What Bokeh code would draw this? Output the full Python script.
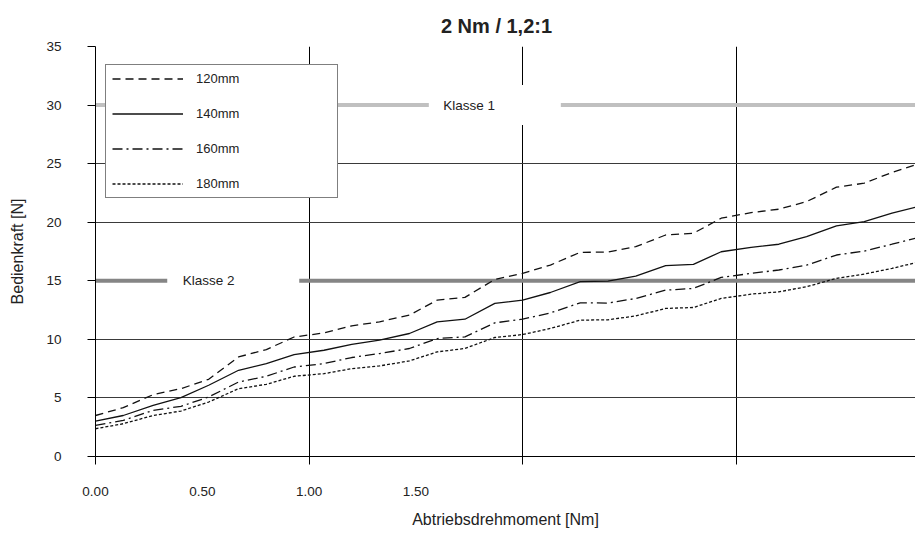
from bokeh.plotting import figure
from bokeh.models import FixedTicker, Legend, LegendItem, Range1d, PrintfTickFormatter
from bokeh.core.properties import value
from bokeh.embed import file_html
from bokeh.resources import INLINE

# ---- data ----
torque = [0.00, 0.13, 0.27, 0.40, 0.53, 0.67, 0.80, 0.93, 1.07, 1.20,
          1.33, 1.47, 1.60, 1.73, 1.87, 2.00, 2.13, 2.27, 2.40, 2.53,
          2.67, 2.80, 2.93, 3.07, 3.20, 3.33, 3.47, 3.60, 3.73, 3.84]

f120 = [3.50, 4.17, 5.28, 5.79, 6.59, 8.50, 9.13, 10.20, 10.55, 11.15,
        11.50, 12.07, 13.35, 13.58, 15.12, 15.63, 16.34, 17.43, 17.45, 17.91,
        18.91, 19.06, 20.34, 20.82, 21.11, 21.76, 22.99, 23.33, 24.25, 24.90]
f140 = [3.02, 3.50, 4.36, 5.02, 6.08, 7.36, 7.93, 8.70, 9.07, 9.57,
        9.93, 10.50, 11.50, 11.72, 13.07, 13.35, 14.00, 14.92, 14.97, 15.40,
        16.29, 16.40, 17.48, 17.86, 18.12, 18.77, 19.68, 20.05, 20.77, 21.28]
f160 = [2.65, 3.08, 3.94, 4.28, 5.08, 6.36, 6.85, 7.64, 7.93, 8.45,
        8.79, 9.22, 10.07, 10.21, 11.41, 11.72, 12.26, 13.12, 13.10, 13.49,
        14.20, 14.35, 15.29, 15.63, 15.92, 16.34, 17.20, 17.54, 18.12, 18.63]
f180 = [2.37, 2.80, 3.50, 3.88, 4.65, 5.79, 6.16, 6.85, 7.07, 7.50,
        7.73, 8.16, 8.93, 9.22, 10.16, 10.41, 10.93, 11.64, 11.67, 12.00,
        12.64, 12.72, 13.49, 13.86, 14.06, 14.49, 15.21, 15.57, 16.06, 16.54]

series_labels = ["120mm", "140mm", "160mm", "180mm"]

klasse_names = ["Klasse 1", "Klasse 2"]
klasse_levels = [30, 15]

x_tick_labels_at = [0.0, 0.5, 1.0, 1.5]
x_grid_at = [1, 2, 3]
y_ticks = [0, 5, 10, 15, 20, 25, 30, 35]

# ---- styling / placement ----
FONT = "Liberation Sans"
TXT = "#222222"
klasse_colors = ["#c0c0c0", "#858585"]
klasse_text_x = [1.75, 0.53]
klasse_box_x = [1.87, 0.645]
dashes = ["8 5", "solid", "10 4 2 4", "3 2"]

p = figure(width=915, height=534, output_backend="svg", toolbar_location=None,
           x_range=Range1d(0, 3.84), y_range=Range1d(0, 35),
           min_border_left=95, min_border_right=0, min_border_top=0,
           min_border_bottom=78, title="2 Nm / 1,2:1")
p.outline_line_color = None
p.background_fill_color = "white"

p.title.text_font = FONT
p.title.text_font_size = "20px"
p.title.text_font_style = "bold"
p.title.text_color = TXT
p.title.align = "center"
p.title.standoff = 19
p.title.padding = dict(left=0, right=18, top=3, bottom=0)

# x axis
p.xaxis.ticker = FixedTicker(ticks=x_tick_labels_at, minor_ticks=[0] + x_grid_at)
p.xaxis.formatter = PrintfTickFormatter(format="%.2f")
p.xaxis.major_tick_out = 0
p.xaxis.major_tick_in = 0
p.xaxis.minor_tick_out = 8
p.xaxis.minor_tick_in = 0
p.xaxis.minor_tick_line_color = "black"
p.xaxis.axis_line_color = "black"
p.xaxis.major_label_standoff = 22
p.xaxis.major_label_text_font = FONT
p.xaxis.major_label_text_font_size = "13.5px"
p.xaxis.major_label_text_color = TXT
p.xaxis.axis_label = "Abtriebsdrehmoment [Nm]"
p.xaxis.axis_label_text_font = FONT
p.xaxis.axis_label_text_font_size = "16px"
p.xaxis.axis_label_text_font_style = "normal"
p.xaxis.axis_label_text_color = TXT
p.xaxis.axis_label_standoff = 12

# y axis
p.yaxis.ticker = FixedTicker(ticks=y_ticks)
p.yaxis.major_tick_out = 8
p.yaxis.major_tick_in = 0
p.yaxis.minor_tick_out = 0
p.yaxis.minor_tick_in = 0
p.yaxis.major_tick_line_color = "black"
p.yaxis.axis_line_color = "black"
p.yaxis.major_label_standoff = 26
p.yaxis.major_label_text_font = FONT
p.yaxis.major_label_text_font_size = "13.5px"
p.yaxis.major_label_text_color = TXT
p.yaxis.axis_label = "Bedienkraft [N]"
p.yaxis.axis_label_text_font = FONT
p.yaxis.axis_label_text_font_size = "16px"
p.yaxis.axis_label_text_font_style = "normal"
p.yaxis.axis_label_text_color = TXT
p.yaxis.axis_label_standoff = 17

# grids
p.xgrid.ticker = FixedTicker(ticks=x_grid_at)
p.xgrid.grid_line_color = "black"
p.xgrid.grid_line_width = 1
p.ygrid.ticker = FixedTicker(ticks=y_ticks[1:])
p.ygrid.grid_line_color = "#3a3a3a"
p.ygrid.grid_line_width = 1

# Klasse reference lines with white label boxes
for name, lvl, col, tx, bx in zip(klasse_names, klasse_levels, klasse_colors,
                                  klasse_text_x, klasse_box_x):
    p.line([torque[0], torque[-1]], [lvl, lvl], line_color=col, line_width=4)
    p.rect(x=[bx], y=[lvl], width=132, height=40, width_units="screen",
           height_units="screen", fill_color="white", line_color=None)
    p.text(x=[tx], y=[lvl], text=[name], text_font=value(FONT),
           text_font_size="13.5px", text_align="center", text_baseline="middle",
           text_color=TXT)

# curves
renderers = []
for ys, dash in zip([f120, f140, f160, f180], dashes):
    r = p.line(torque, ys, line_color="#111111", line_width=1.3, line_dash=dash)
    renderers.append(r)

legend = Legend(items=[LegendItem(label=l, renderers=[r])
                       for l, r in zip(series_labels, renderers)],
                location=(10, 258))
legend.padding = 6
legend.spacing = 20
legend.glyph_height = 13
legend.label_height = 13
legend.glyph_width = 71
legend.label_width = 135
legend.label_standoff = 13
legend.margin = 0
legend.border_line_color = "black"
legend.border_line_width = 1
legend.background_fill_color = "white"
legend.background_fill_alpha = 1.0
legend.label_text_font = FONT
legend.label_text_font_size = "13px"
legend.label_text_color = TXT
p.add_layout(legend)

open("out.html", "w").write(file_html(p, INLINE))
